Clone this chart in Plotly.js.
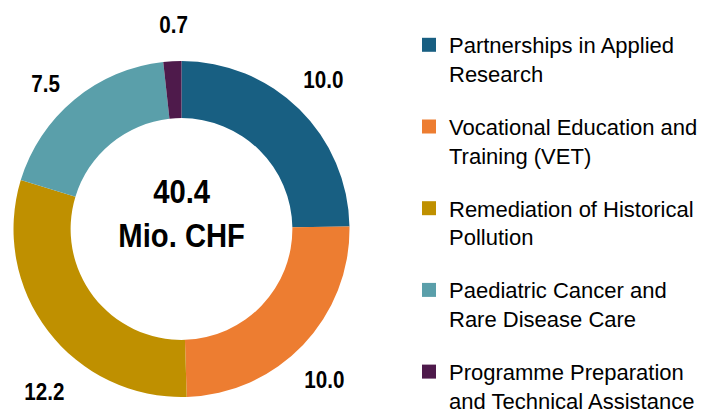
<!DOCTYPE html>
<html>
<head>
<meta charset="utf-8">
<script src="https://cdn.plot.ly/plotly-3.0.1.min.js"></script>
<style>html,body{margin:0;padding:0;background:#fff;}#chart{width:709px;height:414px;}</style>
</head>
<body>
<div id="chart"></div>
<script>
// ---- data ----
const categories = [
  "Partnerships in Applied Research",
  "Vocational Education and Training (VET)",
  "Remediation of Historical Pollution",
  "Paediatric Cancer and Rare Disease Care",
  "Programme Preparation and Technical Assistance"
];
const legendLabels = [
  "Partnerships in Applied<br>Research",
  "Vocational Education and<br>Training (VET)",
  "Remediation of Historical<br>Pollution",
  "Paediatric Cancer and<br>Rare Disease Care",
  "Programme Preparation<br>and Technical Assistance"
];
const values = [10.0, 10.0, 12.2, 7.5, 0.7];
const totalLabel = "40.4";
const unitLabel = "Mio. CHF";

// ---- style ----
const colors = ["#185F82", "#ED7D31", "#BF9000", "#5A9FAA", "#4E1A4B"];
const W = 709, H = 414;
const centerPx = [181.5, 229];
const radiusPx = 168;
const holeFrac = 0.66;
const labelRadiusPx = 205;
const labelNudge = [[-2, -3], [-5, 9], [26, 38], [-5, 12], [3, 0]];
const centerTextPx = 213;
const narrowScale = 0.86;
const boldFont = "'Liberation Sans', Arial, sans-serif";
const regular = "'Liberation Sans', Arial, sans-serif";

const domain = {
  x: [(centerPx[0] - radiusPx) / W, (centerPx[0] + radiusPx) / W],
  y: [(H - centerPx[1] - radiusPx) / H, (H - centerPx[1] + radiusPx) / H]
};

const traces = [{
  type: "pie",
  labels: categories,
  values: values,
  sort: false,
  direction: "clockwise",
  rotation: 0,
  hole: holeFrac,
  textinfo: "none",
  hoverinfo: "label+value",
  marker: { colors: colors, line: { width: 0 } },
  domain: domain,
  showlegend: false
}];

// legend entries (one per category)
categories.forEach((c, i) => {
  traces.push({
    type: "scatter", mode: "markers",
    x: [null], y: [null],
    name: legendLabels[i],
    legendgroup: "g" + i,
    marker: { symbol: "square", size: 14, color: colors[i] },
    showlegend: true, hoverinfo: "skip"
  });
});

// value labels positioned from slice mid-angles
const total = values.reduce((a, b) => a + b, 0);
let cum = 0;
const annotations = values.map((v, i) => {
  const mid = (cum + v / 2) / total * 2 * Math.PI;
  cum += v;
  const px = centerPx[0] + labelRadiusPx * Math.sin(mid) + labelNudge[i][0];
  const py = centerPx[1] - labelRadiusPx * Math.cos(mid) + labelNudge[i][1];
  return {
    xref: "paper", yref: "paper", x: px / W, y: 1 - py / H,
    xanchor: "center", yanchor: "middle", showarrow: false,
    text: "<b>" + v.toFixed(1) + "</b>",
    font: { family: boldFont, size: 24, color: "#000" }
  };
});
annotations.push({
  xref: "paper", yref: "paper",
  x: centerPx[0] / W, y: 1 - centerTextPx / H,
  xanchor: "center", yanchor: "middle", showarrow: false,
  text: "<b>" + totalLabel + "<br>" + unitLabel + "</b>",
  font: { family: boldFont, size: 34, color: "#000" }
});

const layout = {
  width: W, height: H,
  margin: { l: 0, r: 0, t: 0, b: 0, autoexpand: false },
  paper_bgcolor: "#fff", plot_bgcolor: "#fff",
  xaxis: { visible: false }, yaxis: { visible: false },
  showlegend: true,
  legend: {
    x: 409 / W, xanchor: "left",
    y: 1 - 24 / H, yanchor: "top",
    valign: "top",
    tracegroupgap: 21.5,
    font: { family: regular, size: 22, color: "#000" },
    bgcolor: "rgba(0,0,0,0)"
  },
  annotations: annotations
};

Plotly.newPlot("chart", traces, layout, { displayModeBar: false, staticPlot: true }).then(() => {
  // condensed (Arial Narrow-like) look for the bold figures
  document.querySelectorAll("#chart .annotation-text").forEach(t => {
    const b = t.getBBox();
    const cx = b.x + b.width / 2;
    t.setAttribute("transform", "translate(" + cx + ",0) scale(" + narrowScale + ",1) translate(" + (-cx) + ",0)");
  });
});
</script>
</body>
</html>
